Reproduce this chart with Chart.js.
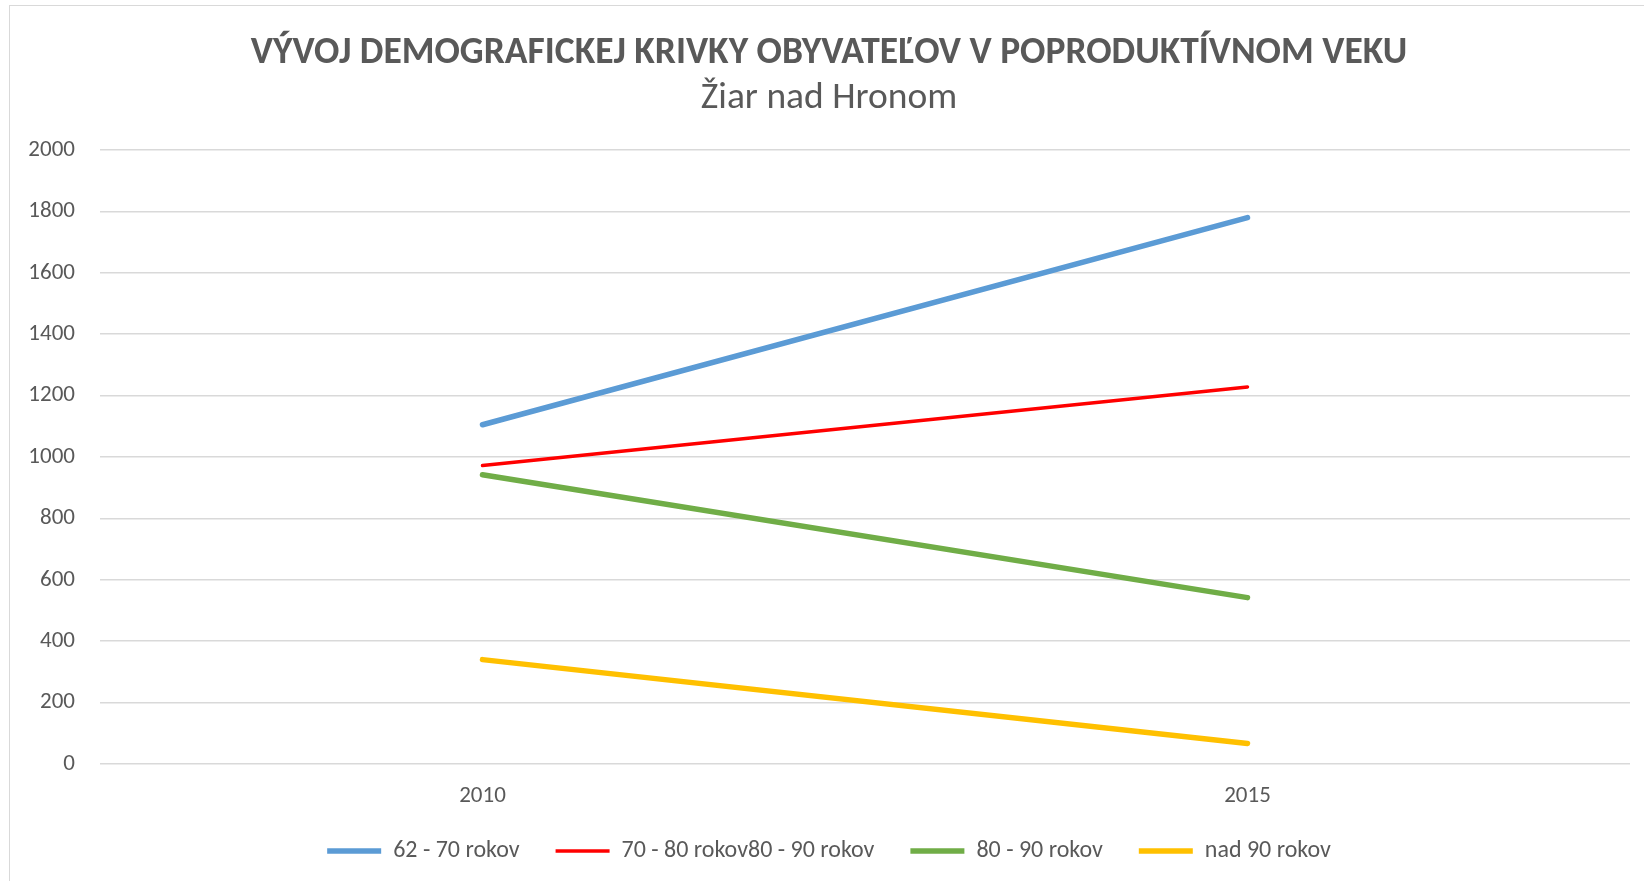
<!DOCTYPE html>
<html lang="sk">
<head>
    <meta charset="UTF-8">
    <title>Vývoj demografickej krivky</title>
    <script src="https://cdn.jsdelivr.net/npm/chart.js"></script>
    <style>
        body, html {
            margin: 0;
            padding: 0;
            width: 100%;
            height: 100%;
            overflow: hidden;
            background: #fff;
        }
        #wrap {
            position: absolute;
            left: 9px;
            top: 5px;
            width: 1634px;
            height: 878px;
            border-left: 1px solid #d9d9d9;
            border-top: 1px solid #d9d9d9;
        }
        canvas {
            width: 100% !important;
            height: 100% !important;
        }
    </style>
</head>
<body>
    <div id="wrap"><canvas id="demoChart"></canvas></div>

    <script>
        const years = ["2010", "2015"];
        const age62_70 = [1105, 1780];
        const age70_80 = [972, 1228];
        const age80_90 = [942, 542];
        const age90plus = [340, 67];
        const yTicks = [0, 200, 400, 600, 800, 1000, 1200, 1400, 1600, 1800, 2000];

        Chart.defaults.font.family = 'Carlito, "Liberation Sans Narrow", "Open Sans", sans-serif';
        Chart.defaults.color = '#595959';

        const mk = (label, data, color, w) => ({
            label: label,
            data: data,
            borderColor: color,
            backgroundColor: color,
            borderWidth: w,
            borderCapStyle: 'round',
            pointRadius: 0,
            pointHoverRadius: 0,
            pointStyle: 'line',
            tension: 0
        });

        // legend sits a bit closer to the axis labels than chart.js would put it
        const legendUp = {
            id: 'legendUp',
            afterLayout(chart) {
                chart.legend.top -= 11;
                chart.legend.bottom -= 11;
            }
        };

        const ctx = document.getElementById('demoChart').getContext('2d');
        new Chart(ctx, {
            type: 'line',
            data: {
                labels: years,
                datasets: [
                    mk('62 - 70 rokov', age62_70, '#5b9bd5', 5.5),
                    mk('70 - 80 rokov80 - 90 rokov', age70_80, '#ff0000', 3.5),
                    mk('80 - 90 rokov', age80_90, '#70ad47', 5.5),
                    mk('nad 90 rokov', age90plus, '#ffc000', 5.5)
                ]
            },
            plugins: [legendUp],
            options: {
                responsive: true,
                maintainAspectRatio: false,
                animation: false,
                layout: { padding: { left: 18, right: 14, top: 13, bottom: 0 } },
                scales: {
                    x: {
                        offset: true,
                        grid: { display: false, drawTicks: false },
                        border: { display: false },
                        ticks: { font: { size: 23 }, padding: 18, color: '#595959' },
                        afterFit: (axis) => { axis.height = 50; }
                    },
                    y: {
                        min: 0,
                        max: 2000,
                        afterBuildTicks: (axis) => { axis.ticks = yTicks.map(v => ({ value: v })); },
                        grid: { color: '#d9d9d9', lineWidth: 1.5, drawTicks: false },
                        border: { display: false },
                        ticks: {
                            font: { size: 23 },
                            padding: 25,
                            color: '#595959',
                            callback: (v) => String(v)
                        },
                        afterFit: (axis) => { axis.width = 72; }
                    }
                },
                plugins: {
                    title: {
                        display: true,
                        text: 'VÝVOJ DEMOGRAFICKEJ KRIVKY OBYVATEĽOV V POPRODUKTÍVNOM VEKU',
                        font: { size: 37.5, weight: 'bold' },
                        color: '#595959',
                        padding: { top: 12, bottom: 0 }
                    },
                    subtitle: {
                        display: true,
                        text: 'Žiar nad Hronom',
                        font: { size: 37.5, weight: 'normal' },
                        color: '#595959',
                        padding: { top: 0, bottom: 29 }
                    },
                    legend: {
                        position: 'bottom',
                        labels: {
                            usePointStyle: true,
                            pointStyle: 'line',
                            pointStyleWidth: 54,
                            boxHeight: 12,
                            padding: 36,
                            font: { size: 24 },
                            color: '#595959'
                        }
                    },
                    tooltip: { enabled: false }
                }
            }
        });
    </script>
</body>
</html>
